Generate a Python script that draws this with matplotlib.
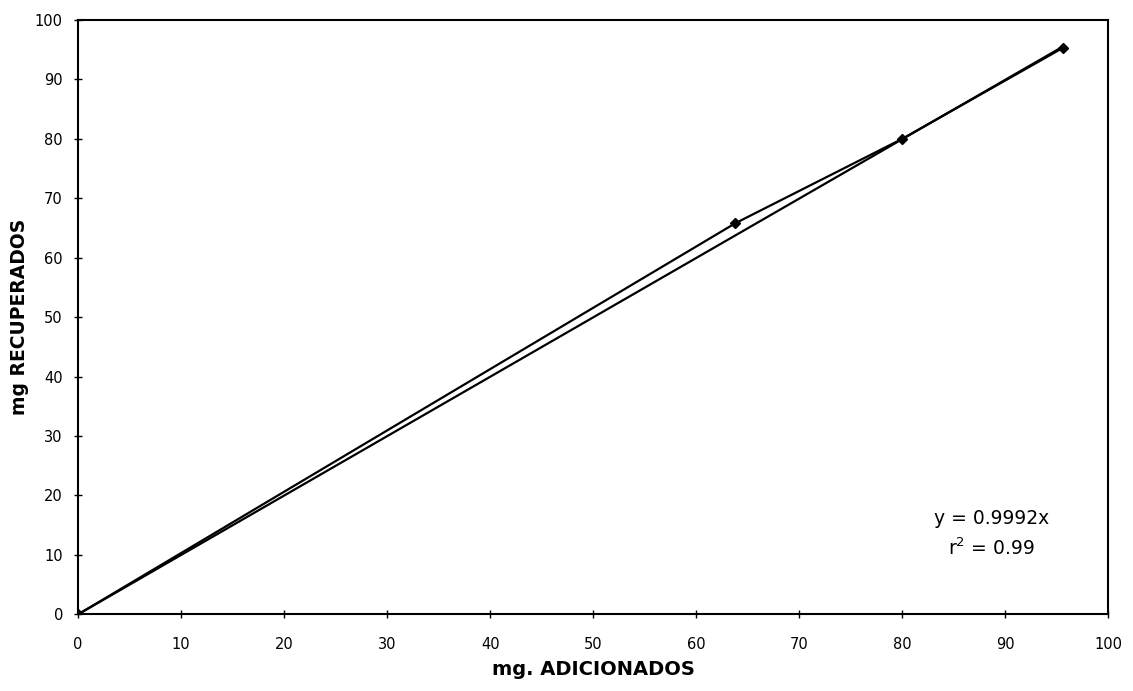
import matplotlib
matplotlib.use("Agg")
import matplotlib.pyplot as plt
import numpy as np

# Data
x_added = [0, 63.8, 80.0, 95.6]
y_recovered = [0, 65.8, 80.0, 95.3]
slope = 0.9992
r2_text = "0.99"
x_ticks = [0, 10, 20, 30, 40, 50, 60, 70, 80, 90, 100]
y_ticks = [0, 10, 20, 30, 40, 50, 60, 70, 80, 90, 100]

plt.rcParams['font.family'] = ['DejaVu Sans']

fig = plt.figure(figsize=(11.33, 6.91), dpi=100)
ax = fig.add_axes([0.069, 0.111, 0.909, 0.86])

ax.plot(x_added, y_recovered, color='black', lw=1.6, marker='D', ms=5,
        markerfacecolor='black', zorder=3)
xt = np.array([0, x_added[-1]])
ax.plot(xt, slope * xt, color='black', lw=1.6, zorder=2)

ax.set_xlim(0, 100)
ax.set_ylim(0, 100)
ax.set_xticks(x_ticks)
ax.set_yticks(y_ticks)
ax.tick_params(axis='both', direction='inout', length=6, width=1, labelsize=10.5)
ax.tick_params(axis='x', pad=13)
ax.tick_params(axis='y', pad=8)
for s in ax.spines.values():
    s.set_linewidth(1.5)
    s.set_color('black')

ax.set_xlabel('mg. ADICIONADOS', fontsize=14, fontweight='bold', labelpad=6)
ax.set_ylabel('mg RECUPERADOS', fontsize=13.5, fontweight='bold', labelpad=4)

ax.text(0.887, 0.162, 'y = 0.9992x', transform=ax.transAxes, ha='center',
        va='center', fontsize=13.5)
ax.text(0.887, 0.111, 'r$^2$ = ' + r2_text, transform=ax.transAxes, ha='center',
        va='center', fontsize=13.5)

fig.savefig('out.png', dpi=100)
